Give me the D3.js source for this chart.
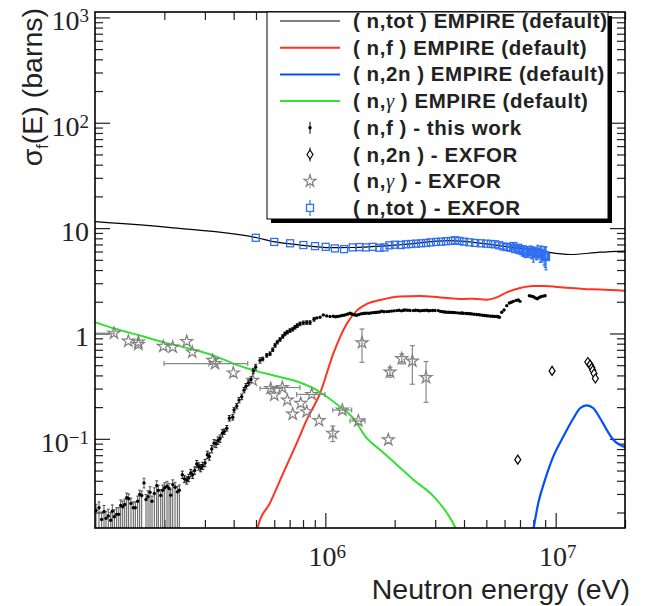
<!DOCTYPE html>
<html><head><meta charset="utf-8">
<script src="https://cdn.jsdelivr.net/npm/d3@7"></script>
<style>body{margin:0;background:#fff}</style>
</head><body><svg id="c" width="651" height="606" xmlns="http://www.w3.org/2000/svg"></svg>
<script>
// ---------------- DATA ----------------
// (n,f) this work - low energy part (lower error reaches the axis)
const nfLowE = [1.010e5,1.041e5,1.069e5,1.094e5,1.116e5,1.142e5,1.170e5,1.189e5,1.213e5,1.242e5,
1.268e5,1.293e5,1.319e5,1.346e5,1.373e5,1.400e5,1.433e5,1.466e5,1.496e5,1.532e5,
1.563e5,1.595e5,1.632e5,1.665e5,1.699e5,1.733e5,1.768e5,1.809e5,1.853e5,1.883e5,
1.929e5,1.968e5,2.007e5,2.054e5,2.096e5,2.132e5,2.175e5,2.226e5,2.278e5,2.323e5];
const nfLowS = [0.0209,0.0222,0.0172,0.0203,0.0176,0.0185,0.0169,0.0206,0.0182,0.0192,
0.0192,0.0233,0.0227,0.0238,0.0276,0.0270,0.0244,0.0222,0.0222,0.0256,
0.0296,0.0290,0.0382,0.0266,0.0282,0.0311,0.0256,0.0303,0.0360,0.0323,
0.0290,0.0325,0.0343,0.0355,0.0338,0.0292,0.0368,0.0347,0.0314,0.0325];
const nfLowErrUp = [0.003,0.003,0.003,0.003,0.003,0.003,0.003,0.003,0.003,0.003,
0.003,0.003,0.003,0.003,0.003,0.003,0.003,0.003,0.003,0.003,
0.003,0.003,0.004,0.003,0.004,0.004,0.003,0.004,0.004,0.004,
0.004,0.004,0.004,0.004,0.004,0.004,0.004,0.004,0.004,0.004];
const nfLowErrDn = [0.05,0.05,0.05,0.05,0.05,0.05,0.05,0.05,0.05,0.05,
0.05,0.05,0.05,0.05,0.05,0.05,0.05,0.05,0.05,0.05,
0.05,0.05,0.004,0.05,0.05,0.05,0.05,0.05,0.05,0.05,
0.05,0.05,0.05,0.05,0.05,0.05,0.05,0.05,0.05,0.05];
// (n,f) this work - rising part
const nfRiseE = [2.394e5,2.443e5,2.502e5,2.552e5,2.604e5,2.656e5,2.710e5,2.765e5,2.821e5,2.877e5,
2.936e5,3.004e5,3.074e5,3.136e5,3.212e5,3.287e5,3.354e5,3.421e5,3.491e5,3.572e5,
3.644e5,3.733e5,3.831e5,3.963e5,4.015e5,4.125e5,4.220e5,4.335e5,4.436e5,4.525e5,
4.631e5,4.757e5,4.868e5,4.986e5,5.205e5,5.347e5,5.566e5,5.753e5,5.910e5,6.048e5,
6.188e5,6.357e5,6.531e5,6.683e5,6.839e5,7.026e5,7.218e5,7.386e5,7.558e5,7.764e5,
8.025e5,8.302e5,8.581e5,8.932e5];
const nfRiseS = [0.0457,0.0417,0.0404,0.0426,0.0475,0.0457,0.0502,0.0577,0.0548,0.0529,
0.0556,0.0590,0.0707,0.0681,0.0800,0.0910,0.0897,0.0964,0.1007,0.1132,
0.1172,0.1262,0.1568,0.1602,0.1877,0.2049,0.2333,0.2506,0.2899,0.3163,
0.3398,0.3659,0.4409,0.4808,0.5559,0.5728,0.6199,0.6432,0.7016,0.7706,
0.8278,0.8776,0.9369,0.9935,1.029,1.067,1.098,1.147,1.190,1.235,
1.262,1.270,1.270,1.364];
const nfRiseErr = [0.0037,0.0033,0.0032,0.0034,0.0038,0.0037,0.0040,0.0046,0.0044,0.0042,
0.0044,0.0047,0.0057,0.0054,0.0064,0.0073,0.0072,0.0077,0.0081,0.0091,
0.0070,0.0076,0.0094,0.0096,0.011,0.012,0.014,0.015,0.017,0.019,
0.020,0.022,0.026,0.029,0.033,0.023,0.025,0.026,0.028,0.031,
0.033,0.035,0.037,0.040,0.041,0.043,0.044,0.046,0.048,0.049,
0.050,0.051,0.051,0.055];
// (n,f) this work - plateau
const nfPlatE = [9.177e5,9.484e5,9.802e5,1.014e6,1.048e6,1.083e6,1.105e6,1.127e6,1.152e6,1.179e6,
1.206e6,1.230e6,1.254e6,1.281e6,1.302e6,1.323e6,1.346e6,1.369e6,1.396e6,1.425e6,
1.458e6,1.487e6,1.517e6,1.552e6,1.584e6,1.616e6,1.649e6,1.682e6,1.720e6,1.758e6,
1.798e6,1.848e6,1.891e6,1.938e6,1.987e6,2.042e6,2.089e6,2.142e6,2.186e6,2.219e6,
2.275e6,2.332e6,2.411e6,2.465e6,2.527e6,2.577e6,2.622e6,2.683e6,2.750e6,2.806e6,
2.850e6,2.921e6,2.995e6,3.095e6,3.163e6,3.243e6,3.299e6,3.366e6,3.444e6,3.514e6,
3.586e6,3.658e6,3.750e6,3.845e6,3.911e6,3.974e6,4.082e6,4.165e6,4.249e6,4.323e6,
4.422e6,4.534e6,4.626e6,4.696e6,4.815e6,4.912e6,5.012e6,5.104e6,5.216e6,5.321e6,
5.430e6,5.551e6,5.623e6,5.697e6,5.834e6,5.969e6,6.133e6,6.295e6,6.423e6,6.551e6,
6.730e6,6.887e6,7.005e6,7.690e6,7.845e6,8.003e6,8.164e6,8.330e6,8.470e6,8.617e6,
8.797e6,8.995e6];
const nfPlatS = [1.406,1.425,1.501,1.469,1.447,1.456,1.440,1.447,1.460,1.479,
1.490,1.511,1.530,1.554,1.530,1.511,1.500,1.488,1.510,1.534,
1.550,1.554,1.560,1.554,1.570,1.578,1.580,1.588,1.600,1.623,
1.610,1.613,1.620,1.630,1.640,1.648,1.660,1.640,1.660,1.673,
1.660,1.650,1.648,1.660,1.650,1.640,1.648,1.650,1.660,1.645,
1.648,1.650,1.655,1.648,1.620,1.610,1.600,1.588,1.590,1.585,
1.580,1.578,1.570,1.560,1.565,1.554,1.550,1.545,1.540,1.534,
1.520,1.515,1.510,1.501,1.490,1.480,1.475,1.469,1.460,1.455,
1.450,1.447,1.440,1.425,1.588,1.673,1.837,1.949,1.980,2.017,
2.060,2.079,2.017,2.283,2.260,2.234,2.170,2.138,2.190,2.234,
2.260,2.283];

// (n,tot) EXFOR
const totE = [4.99e5,6.00e5,7.03e5,8.03e5,9.02e5,1.004e6,1.10e6,1.206e6,1.315e6,1.405e6,
1.502e6,1.606e6,1.716e6,1.804e6,1.897e6,2.007e6,2.125e6,2.24e6,2.356e6,2.477e6,
2.604e6,2.737e6,2.869e6,3.025e6,3.18e6,3.34e6,3.51e6,3.66e6,3.82e6,4.00e6,
4.22e6,4.47e6,4.73e6,4.99e6,5.23e6,5.46e6,5.69e6,5.93e6,6.13e6,6.38e6,
6.55e6,6.66e6,6.887e6,6.96e6,7.20e6,7.24e6,7.36e6,7.54e6,7.74e6,7.88e6,
8.00e6,8.22e6,8.36e6,8.56e6,8.70e6,8.91e6,9.00e6,9.08e6];
const totS = [8.10,7.39,7.18,6.91,6.75,6.64,6.42,6.32,6.56,6.61,
6.56,6.64,6.51,6.56,6.87,6.96,6.91,7.02,7.07,7.12,
7.18,7.23,7.33,7.39,7.44,7.51,7.56,7.67,7.56,7.44,
7.33,7.23,7.18,7.12,7.07,7.02,6.87,6.70,6.61,6.51,
6.76,6.32,6.51,6.19,6.30,6.06,5.85,5.97,6.16,5.91,
5.65,5.80,5.97,5.72,5.77,5.56,5.44,5.32];
const totErr = [0.1,0.1,0.1,0.1,0.1,0.1,0.1,0.1,0.1,0.1,
0.1,0.1,0.1,0.1,0.1,0.1,0.1,0.1,0.1,0.1,
0.1,0.1,0.1,0.1,0.1,0.1,0.1,0.1,0.1,0.1,
0.1,0.1,0.1,0.1,0.1,0.1,0.1,0.3,0.3,0.35,
0.4,0.4,0.45,0.5,0.5,0.6,0.6,0.7,0.6,0.8,
0.9,0.8,0.9,1.0,1.0,1.1,1.2,1.3];

// (n,gamma) EXFOR
const ngE = [1.209e5,1.395e5,1.542e5,1.542e5,1.980e5,2.175e5,2.502e5,2.645e5,3.244e5,3.320e5,
3.986e5,4.839e5,5.793e5,6.505e5,6.004e5,6.839e5,7.218e5,7.820e5,8.302e5,8.727e5,
9.390e5,1.077e6,1.185e6,1.391e6,1.443e6,1.909e6,1.877e6,2.147e6,2.387e6,2.737e6];
const ngS = [1.006,0.846,0.828,0.787,0.754,0.743,0.840,0.666,0.556,0.518,
0.422,0.360,0.301,0.307,0.260,0.2333,0.172,0.217,0.181,0.264,
0.149,0.1132,0.1877,0.148,0.817,0.431,0.0979,0.577,0.548,0.382];
const ngErr = [0,0,0,0,0,0,0,0,0,0,
0,0,0,0,0,0,0,0,0,0,
0,0.019,0,0,0.285,0.047,0,0.062,0.218,0.16];
const ngElo = [1.0e5,1.395e5,1.542e5,1.542e5,1.980e5,2.175e5,2.502e5,2.645e5,3.244e5,1.994e5,
3.986e5,4.839e5,5.205e5,5.80e5,6.004e5,6.839e5,7.218e5,7.820e5,8.302e5,7.511e5,
9.390e5,1.077e6,1.077e6,1.28e6,1.443e6,1.909e6,1.877e6,2.147e6,2.387e6,2.737e6];
const ngEhi = [1.209e5,1.395e5,1.542e5,1.542e5,1.980e5,2.175e5,2.502e5,2.645e5,3.244e5,4.603e5,
3.986e5,4.839e5,6.50e5,7.76e5,6.004e5,6.839e5,7.218e5,7.820e5,8.302e5,9.97e5,
9.390e5,1.077e6,1.301e6,1.487e6,1.443e6,1.909e6,1.877e6,2.147e6,2.387e6,2.737e6];

// (n,2n) EXFOR
const n2nE = [6.847e6,9.647e6,1.379e7,1.411e7,1.435e7,1.449e7,1.468e7,1.487e7];
const n2nS = [0.0634,0.441,0.536,0.507,0.475,0.448,0.417,0.374];
const n2nErr = [0.005,0.01,0.01,0.01,0.01,0.01,0.01,0.01];

// EMPIRE curves
const empTotE = [1e5,2.18e5,5.05e5,6.05e5,7.77e5,1.047e6,1.28e6,2.11e6,3.47e6,4.70e6,6.34e6,8.56e6,1.155e7,1.56e7,2.0e7];
const empTotS = [11.5,10.05,8.10,7.39,6.91,6.52,6.55,6.95,7.60,7.21,6.60,6.06,5.62,5.91,6.06];
const empNfE = [4.95e5,5.088e5,5.753e5,6.571e5,7.511e5,8.302e5,9.484e5,1.083e6,1.239e6,1.369e6,1.513e6,1.728e6,2.110e6,2.577e6,3.148e6,3.974e6,4.392e6,5.022e6,5.551e6,6.133e6,7.005e6,8.003e6,8.845e6,1.080e7,1.319e7,1.559e7,2.0e7];
const empNfS = [0.0111,0.01456,0.0247,0.0475,0.0910,0.1511,0.270,0.643,1.235,1.648,1.906,2.080,2.249,2.269,2.200,2.125,2.138,2.093,2.200,2.453,2.698,2.818,2.818,2.734,2.640,2.617,2.545];
const empN2nE = [7.94e6,8.41e6,8.995e6,9.77e6,1.080e7,1.194e7,1.276e7,1.365e7,1.458e7,1.559e7,1.667e7,1.780e7,2.0e7];
const empN2nS = [0.0124,0.0247,0.0410,0.0681,0.1051,0.1568,0.1950,0.208,0.1950,0.1568,0.1216,0.0979,0.0835];
const empNgE = [1e5,1.221e5,1.568e5,1.980e5,2.586e5,3.264e5,3.986e5,4.868e5,6.152e5,7.764e5,9.177e5,1.014e6,1.158e6,1.323e6,1.513e6,1.728e6,2.042e6,2.411e6,2.944e6,3.366e6,3.658e6,3.77e6];
const empNgS = [1.278,1.107,0.957,0.828,0.717,0.620,0.518,0.448,0.393,0.343,0.290,0.2506,0.2017,0.1568,0.1016,0.0787,0.0568,0.0410,0.0286,0.0199,0.01456,0.0124];

// axis ticks / labels
const xMajor = [1e6,1e7];
const xMajorExp = ["6","7"];
const yMajor = [0.1,1,10,100,1000];
const yMajorBase = ["10","1","10","10","10"];
const yMajorExp = ["\u22121","","","2","3"];

const legendItems = [
  {pre:"( n,tot ) EMPIRE (default)", kind:"line", color:"#000000", w:1.2},
  {pre:"( n,f ) EMPIRE (default)", kind:"line", color:"#ff3322", w:2},
  {pre:"( n,2n ) EMPIRE (default)", kind:"line", color:"#0050ff", w:2},
  {pre:"( n,", g:true, post:" ) EMPIRE (default)", kind:"line", color:"#33e033", w:2},
  {pre:"( n,f ) - this work", kind:"nf"},
  {pre:"( n,2n ) - EXFOR", kind:"n2n"},
  {pre:"( n,", g:true, post:" ) - EXFOR", kind:"ng"},
  {pre:"( n,tot ) - EXFOR", kind:"tot"}
];

// ---------------- CHART ----------------
const L=95,R=625,T=12,B=528;
const svg = d3.select("#c");
const x = d3.scaleLog().domain([1e5,2e7]).range([L,R]);
const y = d3.scaleLog().domain([0.01425,1125]).range([B,T]);

svg.append("rect").attr("width",651).attr("height",606).attr("fill","#fff");

svg.append("defs").append("clipPath").attr("id","clip")
  .append("rect").attr("x",L).attr("y",T).attr("width",R-L).attr("height",B-T);

// minor ticks
const xMinor=[], yMinor=[];
[1e5,1e6,1e7].forEach(d=>{for(let k=2;k<=9;k++){const v=k*d; if(v<=2e7) xMinor.push(v);}});
[0.01,0.1,1,10,100].forEach(d=>{for(let k=2;k<=9;k++){const v=k*d; if(v>=0.01425&&v<=1125) yMinor.push(v);}});

function tickAxis(axis, tr){
  const g = svg.append("g").attr("transform",tr).call(axis);
  g.select(".domain").remove();
  g.selectAll("line").attr("stroke","#222").attr("stroke-width",1.2);
  return g;
}
tickAxis(d3.axisLeft(y).tickValues(yMinor).tickSize(-8).tickFormat(""),`translate(${L},0)`);
tickAxis(d3.axisLeft(y).tickValues(yMajor).tickSize(-15).tickFormat(""),`translate(${L},0)`);
tickAxis(d3.axisRight(y).tickValues(yMinor).tickSize(-8).tickFormat(""),`translate(${R},0)`);
tickAxis(d3.axisRight(y).tickValues(yMajor).tickSize(-15).tickFormat(""),`translate(${R},0)`);
tickAxis(d3.axisBottom(x).tickValues(xMinor).tickSize(-8).tickFormat(""),`translate(0,${B})`);
tickAxis(d3.axisBottom(x).tickValues(xMajor).tickSize(-15).tickFormat(""),`translate(0,${B})`);
tickAxis(d3.axisTop(x).tickValues(xMinor).tickSize(-8).tickFormat(""),`translate(0,${T})`);
tickAxis(d3.axisTop(x).tickValues(xMajor).tickSize(-15).tickFormat(""),`translate(0,${T})`);

// tick labels
const serif = "'Liberation Serif','Times New Roman',serif";
yMajor.forEach((v,i)=>{
  const t = svg.append("text").attr("x",89).attr("y",y(v)+13)
    .attr("text-anchor","end").attr("font-family",serif).attr("font-size",28).attr("fill","#222");
  t.append("tspan").text(yMajorBase[i]);
  if(yMajorExp[i]) t.append("tspan").attr("dy",-8).attr("font-size",19).text(yMajorExp[i]);
});
xMajor.forEach((v,i)=>{
  const t = svg.append("text").attr("x",x(v)+2).attr("y",566)
    .attr("text-anchor","middle").attr("font-family",serif).attr("font-size",28).attr("fill","#222");
  t.append("tspan").text("10");
  t.append("tspan").attr("dy",-8).attr("font-size",19).text(xMajorExp[i]);
});

// axis titles
const sans = "'Liberation Sans',Arial,Helvetica,sans-serif";
svg.append("text").attr("x",630).attr("y",599).attr("text-anchor","end")
  .attr("font-family",sans).attr("font-size",28.5).attr("fill","#222").text("Neutron energy (eV)");
const yt = svg.append("text").attr("transform","translate(42,8) rotate(-90)").attr("text-anchor","end")
  .attr("font-family",sans).attr("font-size",28.5).attr("fill","#222");
yt.append("tspan").text("\u03c3");
yt.append("tspan").attr("dy",6).attr("font-size",16).text("f");
yt.append("tspan").attr("dy",-6).text("(E) (barns)");

// data layer
const gd = svg.append("g").attr("clip-path","url(#clip)");
const line = d3.line().x(d=>x(d[0])).y(d=>y(d[1])).curve(d3.curveMonotoneX);
function curve(E,S,color,w){
  gd.append("path").attr("d",line(E.map((e,i)=>[e,S[i]]))).attr("fill","none")
    .attr("stroke",color).attr("stroke-width",w);
}
curve(empTotE,empTotS,"#000",1.2);
curve(empNfE,empNfS,"#ff3322",2);
curve(empN2nE,empN2nS,"#0050ff",2.2);
curve(empNgE,empNgS,"#33e033",2);

function ylo(v){ return v>0 ? y(v) : B+20; }
function vbar(g, xe, lo, hi, color, cap, w){
  const px = x(xe);
  g.append("line").attr("x1",px).attr("x2",px).attr("y1",ylo(lo)).attr("y2",y(hi))
    .attr("stroke",color).attr("stroke-width",w||1);
  if(cap){
    [ylo(lo),y(hi)].forEach(py=>g.append("line").attr("x1",px-cap).attr("x2",px+cap).attr("y1",py).attr("y2",py)
      .attr("stroke",color).attr("stroke-width",w||1));
  }
}

// (n,gamma) EXFOR stars
const star = d3.symbol(d3.symbolStar).size(44);
const gStar = gd.append("g");
ngE.forEach((e,i)=>{
  const s=ngS[i];
  if(ngErr[i]>0) vbar(gStar,e,s-ngErr[i],s+ngErr[i],"#888",2.5,1.2);
  if(ngElo[i]<e || ngEhi[i]>e){
    const py=y(s);
    gStar.append("line").attr("x1",x(ngElo[i])).attr("x2",x(ngEhi[i])).attr("y1",py).attr("y2",py)
      .attr("stroke","#888").attr("stroke-width",1.2);
    [ngElo[i],ngEhi[i]].forEach(ee=>gStar.append("line").attr("x1",x(ee)).attr("x2",x(ee))
      .attr("y1",py-2.5).attr("y2",py+2.5).attr("stroke","#888").attr("stroke-width",1.2));
  }
  gStar.append("path").attr("d",star()).attr("transform",`translate(${x(e)},${y(s)})`)
    .attr("fill","#fff").attr("fill-opacity",0).attr("stroke","#808080").attr("stroke-width",1.2);
});

// (n,f) this work
const gNf = gd.append("g");
nfLowE.forEach((e,i)=>{
  const s=nfLowS[i];
  vbar(gNf,e,s-nfLowErrDn[i],s+nfLowErrUp[i],"#555",1.5,1);
});
nfRiseE.forEach((e,i)=>{
  const s=nfRiseS[i];
  vbar(gNf,e,s-nfRiseErr[i],s+nfRiseErr[i],"#222",1.5,1);
});
const allNfE = nfLowE.concat(nfRiseE, nfPlatE), allNfS = nfLowS.concat(nfRiseS, nfPlatS);
allNfE.forEach((e,i)=>{
  gNf.append("circle").attr("cx",x(e)).attr("cy",y(allNfS[i])).attr("r",1.7).attr("fill","#000");
});

// (n,tot) EXFOR squares
const gTot = gd.append("g");
totE.forEach((e,i)=>{
  const s=totS[i];
  if(totErr[i]>0.2) vbar(gTot,e,s-totErr[i],s+totErr[i],"#2f6ff0",1.5,1.2);
});
totE.forEach((e,i)=>{
  gTot.append("rect").attr("x",x(e)-3.5).attr("y",y(totS[i])-3.5).attr("width",7).attr("height",7)
    .attr("fill","none").attr("stroke","#2f6ff0").attr("stroke-width",1.3);
});

// (n,2n) EXFOR diamonds
const diamond = "M0,-4.5L3,0L0,4.5L-3,0Z";
const gD = gd.append("g");
n2nE.forEach((e,i)=>{
  const s=n2nS[i];
  vbar(gD,e,s-n2nErr[i],s+n2nErr[i],"#000",0,1);
  gD.append("path").attr("d",diamond).attr("transform",`translate(${x(e)},${y(s)})`)
    .attr("fill","#fff").attr("stroke","#000").attr("stroke-width",1.2);
});

// frame
svg.append("rect").attr("x",L).attr("y",T).attr("width",R-L).attr("height",B-T)
  .attr("fill","none").attr("stroke","#000").attr("stroke-width",1.6);

// legend
const lg = svg.append("g");
const lx0=267, ly0=12, lw=341, lh=207;
lg.append("rect").attr("x",lx0+4).attr("y",ly0+4).attr("width",lw).attr("height",lh).attr("fill","#000");
lg.append("rect").attr("x",lx0).attr("y",ly0).attr("width",lw).attr("height",lh).attr("fill","#fff")
  .attr("stroke","#000").attr("stroke-width",1);
legendItems.forEach((it,i)=>{
  const cy = 21 + i*26.7;
  const mx = 310;
  if(it.kind==="line"){
    lg.append("line").attr("x1",280).attr("x2",340).attr("y1",cy).attr("y2",cy)
      .attr("stroke",it.color).attr("stroke-width",it.w);
  } else if(it.kind==="nf"){
    lg.append("line").attr("x1",mx).attr("x2",mx).attr("y1",cy-6).attr("y2",cy+6).attr("stroke","#000");
    lg.append("circle").attr("cx",mx).attr("cy",cy).attr("r",1.7).attr("fill","#000");
  } else if(it.kind==="n2n"){
    lg.append("line").attr("x1",mx).attr("x2",mx).attr("y1",cy-7).attr("y2",cy+7).attr("stroke","#000");
    lg.append("path").attr("d",diamond).attr("transform",`translate(${mx},${cy})`)
      .attr("fill","#fff").attr("stroke","#000").attr("stroke-width",1.2);
  } else if(it.kind==="ng"){
    lg.append("line").attr("x1",mx).attr("x2",mx).attr("y1",cy-7).attr("y2",cy+7).attr("stroke","#888");
    lg.append("path").attr("d",star()).attr("transform",`translate(${mx},${cy})`)
      .attr("fill","#fff").attr("stroke","#808080").attr("stroke-width",1.2);
  } else if(it.kind==="tot"){
    lg.append("line").attr("x1",mx).attr("x2",mx).attr("y1",cy-8).attr("y2",cy+8).attr("stroke","#2f6ff0").attr("stroke-width",1.2);
    lg.append("rect").attr("x",mx-3.5).attr("y",cy-3.5).attr("width",7).attr("height",7)
      .attr("fill","#fff").attr("stroke","#2f6ff0").attr("stroke-width",1.3);
  }
  const t = lg.append("text").attr("x",353).attr("y",cy+7).attr("font-family",sans)
    .attr("font-weight","bold").attr("font-size",20.5).attr("letter-spacing",0.55).attr("fill","#222");
  t.append("tspan").text(it.pre);
  if(it.g){
    t.append("tspan").attr("font-family",serif).attr("font-style","italic").attr("font-weight","normal").text("\u03b3");
    t.append("tspan").text(it.post);
  }
});
</script></body></html>
